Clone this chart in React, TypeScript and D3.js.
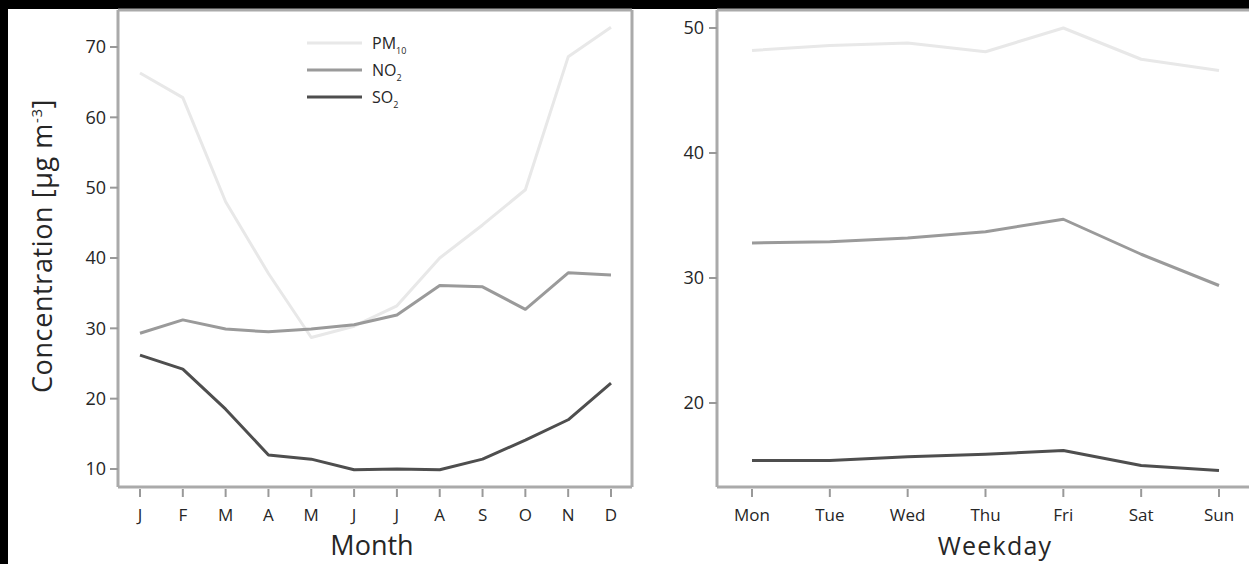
import React from 'react';
import * as d3 from 'd3';

// monthly means
const months = ['J', 'F', 'M', 'A', 'M', 'J', 'J', 'A', 'S', 'O', 'N', 'D'];
const pm10Month = [66.3, 62.8, 48.0, 37.8, 28.7, 30.3, 33.2, 40.0, 44.7, 49.7, 68.6, 72.8];
const no2Month = [29.3, 31.2, 29.9, 29.5, 29.9, 30.5, 31.9, 36.1, 35.9, 32.7, 37.9, 37.6];
const so2Month = [26.2, 24.2, 18.5, 12.0, 11.4, 9.9, 10.0, 9.9, 11.4, 14.1, 17.0, 22.2];

// weekday means
const weekdays = ['Mon', 'Tue', 'Wed', 'Thu', 'Fri', 'Sat', 'Sun'];
const pm10Week = [48.2, 48.6, 48.8, 48.1, 50.0, 47.5, 46.6];
const no2Week = [32.8, 32.9, 33.2, 33.7, 34.7, 31.9, 29.4];
const so2Week = [15.4, 15.4, 15.7, 15.9, 16.2, 15.0, 14.6];

const monthTicks = [10, 20, 30, 40, 50, 60, 70];
const weekTicks = [20, 30, 40, 50];

const FONT = "'Open Sans', 'Noto Sans', sans-serif";
const AXIS = '#aaaaaa';
const TICK = '#999999';
const TEXT = '#262626';

const seriesStyle = [
  { key: 'PM', sub: '10', color: '#e8e8e8' },
  { key: 'NO', sub: '2', color: '#9a9a9a' },
  { key: 'SO', sub: '2', color: '#4e4e4e' },
];

export default function App() {
  const top = 10;
  const bottom = 487;

  // left panel
  const xL = d3.scalePoint<number>().domain(d3.range(months.length)).range([140, 611]);
  const yL = d3.scaleLinear().domain([10, 70]).range([469, 47]);
  const lineL = d3.line<number>().x((_, i) => xL(i)!).y(d => yL(d));

  // right panel
  const xR = d3.scalePoint<number>().domain(d3.range(weekdays.length)).range([752, 1219]);
  const yR = d3.scaleLinear().domain([20, 50]).range([403, 28]);
  const lineR = d3.line<number>().x((_, i) => xR(i)!).y(d => yR(d));

  const leftX = 118, rightX = 632, rX0 = 717;
  const monthSeries = [pm10Month, no2Month, so2Month];
  const weekSeries = [pm10Week, no2Week, so2Week];

  return (
    <svg width={1249} height={564} style={{ display: 'block', position: 'absolute', left: 0, top: 0 }}>
      <rect x={0} y={0} width={1249} height={564} fill="#000" />
      <rect x={8} y={9} width={1241} height={555} fill="#fff" />

      {/* Left panel frame */}
      <line x1={leftX} x2={rightX} y1={top} y2={top} stroke={AXIS} strokeWidth={3} />
      <line x1={rightX} x2={rightX} y1={top} y2={bottom} stroke={AXIS} strokeWidth={3} />
      <line x1={leftX} x2={leftX} y1={top} y2={bottom} stroke={AXIS} strokeWidth={3} />
      <line x1={leftX} x2={rightX} y1={bottom} y2={bottom} stroke={AXIS} strokeWidth={3} />

      {monthTicks.map(t => (
        <g key={t}>
          <line x1={110} x2={leftX} y1={yL(t)} y2={yL(t)} stroke={TICK} strokeWidth={2} />
          <text x={106} y={yL(t)} dy="0.36em" textAnchor="end" fontFamily={FONT} fontSize={18} fill={TEXT}>{t}</text>
        </g>
      ))}
      {months.map((m, i) => (
        <g key={i}>
          <line x1={xL(i)} x2={xL(i)} y1={bottom + 2} y2={bottom + 10} stroke={TICK} strokeWidth={2} />
          <text x={xL(i)} y={521} textAnchor="middle" fontFamily={FONT} fontSize={17} fill={TEXT}>{m}</text>
        </g>
      ))}
      <text x={372} y={555} textAnchor="middle" fontFamily={FONT} fontSize={27} fill={TEXT}>Month</text>
      <text transform="translate(52,246) rotate(-90)" textAnchor="middle" fontFamily={FONT} fontSize={27} letterSpacing={0.6} fill={TEXT}>
        Concentration [µg m<tspan dy={-10} fontSize={15}>-3</tspan><tspan dy={10}>]</tspan>
      </text>

      {monthSeries.map((s, k) => (
        <path key={k} d={lineL(s) ?? ''} fill="none" stroke={seriesStyle[k].color} strokeWidth={3} strokeLinejoin="round" />
      ))}

      {/* Legend */}
      {seriesStyle.map((s, k) => {
        const ly = 43 + k * 27;
        return (
          <g key={s.key}>
            <line x1={307} x2={362} y1={ly} y2={ly} stroke={s.color} strokeWidth={3} />
            <text x={372} y={ly} dy="0.35em" fontFamily={FONT} fontSize={16} fill={TEXT}>
              {s.key}<tspan dy={5} fontSize={9}>{s.sub}</tspan>
            </text>
          </g>
        );
      })}

      {/* Right panel frame */}
      <line x1={rX0} x2={1249} y1={top} y2={top} stroke={AXIS} strokeWidth={3} />
      <line x1={rX0} x2={rX0} y1={top} y2={bottom} stroke={AXIS} strokeWidth={3} />
      <line x1={rX0} x2={1249} y1={bottom} y2={bottom} stroke={AXIS} strokeWidth={3} />

      {weekTicks.map(t => (
        <g key={t}>
          <line x1={709} x2={rX0} y1={yR(t)} y2={yR(t)} stroke={TICK} strokeWidth={2} />
          <text x={704} y={yR(t)} dy="0.36em" textAnchor="end" fontFamily={FONT} fontSize={18} fill={TEXT}>{t}</text>
        </g>
      ))}
      {weekdays.map((d, i) => (
        <g key={d}>
          <line x1={xR(i)} x2={xR(i)} y1={bottom + 2} y2={bottom + 10} stroke={TICK} strokeWidth={2} />
          <text x={xR(i)} y={521} textAnchor="middle" fontFamily={FONT} fontSize={17} fill={TEXT}>{d}</text>
        </g>
      ))}
      <text x={995} y={555} textAnchor="middle" fontFamily={FONT} fontSize={25} letterSpacing={1.2} fill={TEXT}>Weekday</text>

      {weekSeries.map((s, k) => (
        <path key={k} d={lineR(s) ?? ''} fill="none" stroke={seriesStyle[k].color} strokeWidth={3} strokeLinejoin="round" />
      ))}
    </svg>
  );
}
